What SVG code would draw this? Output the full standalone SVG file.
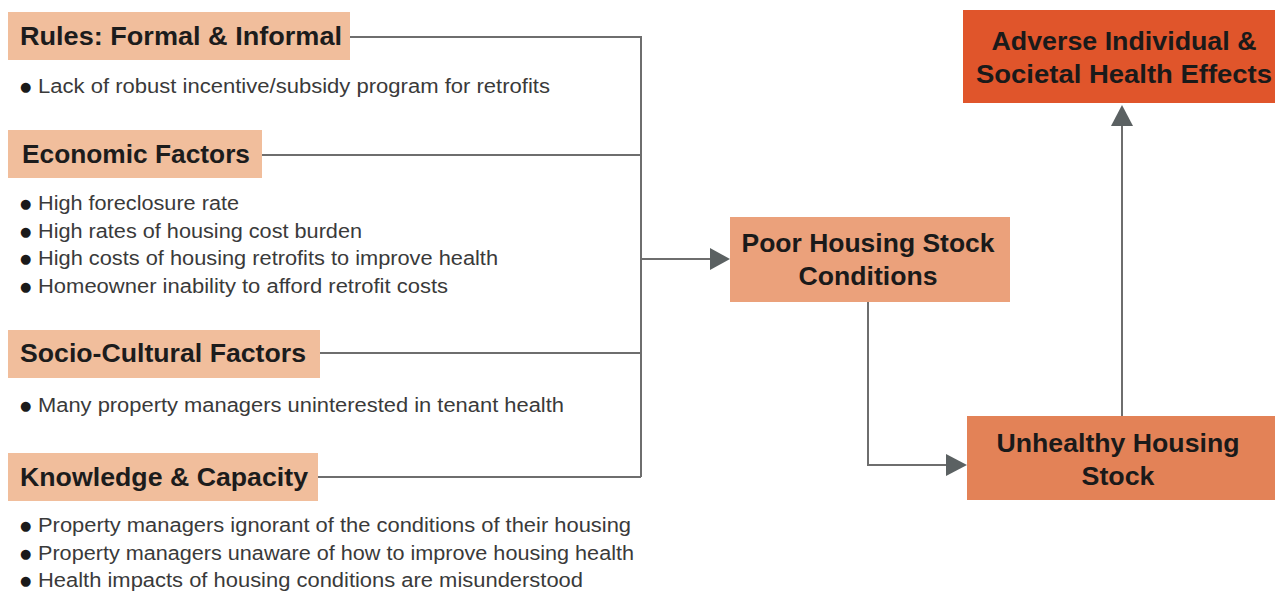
<svg xmlns="http://www.w3.org/2000/svg" width="1275" height="592" viewBox="0 0 1275 592">
<defs>
<style>
.hbox{fill:#F1BE9C}
.hd{font-family:"Liberation Sans",Arial,sans-serif;font-weight:bold;font-size:26px;fill:#1c1c1c}
.bt{font-family:"Liberation Sans",Arial,sans-serif;font-size:20px;fill:#3a3a3a}
.bl{font-family:"DejaVu Sans",sans-serif;font-size:13px;fill:#1a1a1a}
.bx{font-family:"Liberation Sans",Arial,sans-serif;font-weight:bold;font-size:25px;fill:#1a1a1a;text-anchor:middle}
.ln{fill:none;stroke:#6e6e6e;stroke-width:2}
.ah{fill:#5b6162}
</style>
</defs>
<rect width="1275" height="592" fill="#ffffff"/>
<g id="connectors">
<path class="ln" d="M350,37 H641 V477 M262,155 H641 M320,353 H641 M318,477 H641"/>
<path class="ln" d="M641,259 H712"/>
<path class="ah" d="M710,248 L730,259 L710,270 Z"/>
<path class="ln" d="M868,302 V465 H948"/>
<path class="ah" d="M946,454 L967,465 L946,476 Z"/>
<path class="ln" d="M1122,416 V124"/>
<path class="ah" d="M1111,126 L1122,105 L1133,126 Z"/>
</g>
<g id="rules">
<rect class="hbox" x="8" y="12" width="342" height="48"/>
<text class="hd" x="20" y="45" textLength="322" lengthAdjust="spacingAndGlyphs">Rules: Formal &amp; Informal</text>
<text class="bl" x="20" y="91">●</text>
<text class="bt" x="38" y="93" textLength="512" lengthAdjust="spacingAndGlyphs">Lack of robust incentive/subsidy program for retrofits</text>
</g>
<g id="economic">
<rect class="hbox" x="8" y="130" width="254" height="48"/>
<text class="hd" x="22" y="163" textLength="228" lengthAdjust="spacingAndGlyphs">Economic Factors</text>
<text class="bl" x="20" y="208">●</text>
<text class="bt" x="38" y="210" textLength="201" lengthAdjust="spacingAndGlyphs">High foreclosure rate</text>
<text class="bl" x="20" y="236">●</text>
<text class="bt" x="38" y="238" textLength="324" lengthAdjust="spacingAndGlyphs">High rates of housing cost burden</text>
<text class="bl" x="20" y="263">●</text>
<text class="bt" x="38" y="265" textLength="460" lengthAdjust="spacingAndGlyphs">High costs of housing retrofits to improve health</text>
<text class="bl" x="20" y="291">●</text>
<text class="bt" x="38" y="293" textLength="410" lengthAdjust="spacingAndGlyphs">Homeowner inability to afford retrofit costs</text>
</g>
<g id="socio">
<rect class="hbox" x="8" y="330" width="312" height="48"/>
<text class="hd" x="20" y="362" textLength="286" lengthAdjust="spacingAndGlyphs">Socio-Cultural Factors</text>
<text class="bl" x="20" y="410">●</text>
<text class="bt" x="38" y="412" textLength="526" lengthAdjust="spacingAndGlyphs">Many property managers uninterested in tenant health</text>
</g>
<g id="knowledge">
<rect class="hbox" x="8" y="453" width="310" height="48"/>
<text class="hd" x="20" y="486" textLength="288" lengthAdjust="spacingAndGlyphs">Knowledge &amp; Capacity</text>
<text class="bl" x="20" y="530">●</text>
<text class="bt" x="38" y="532" textLength="593" lengthAdjust="spacingAndGlyphs">Property managers ignorant of the conditions of their housing</text>
<text class="bl" x="20" y="558">●</text>
<text class="bt" x="38" y="560" textLength="596" lengthAdjust="spacingAndGlyphs">Property managers unaware of how to improve housing health</text>
<text class="bl" x="20" y="585">●</text>
<text class="bt" x="38" y="587" textLength="545" lengthAdjust="spacingAndGlyphs">Health impacts of housing conditions are misunderstood</text>
</g>
<g id="poor-housing">
<rect x="730" y="217" width="280" height="85" fill="#EBA17B"/>
<text class="bx" x="868" y="252" textLength="253" lengthAdjust="spacingAndGlyphs">Poor Housing Stock</text>
<text class="bx" x="868" y="285" textLength="139" lengthAdjust="spacingAndGlyphs">Conditions</text>
</g>
<g id="unhealthy">
<rect x="967" y="416" width="308" height="84" fill="#E38257"/>
<text class="bx" x="1118" y="452" textLength="243" lengthAdjust="spacingAndGlyphs">Unhealthy Housing</text>
<text class="bx" x="1118" y="485" textLength="73" lengthAdjust="spacingAndGlyphs">Stock</text>
</g>
<g id="adverse">
<rect x="963" y="10" width="312" height="93" fill="#E0552B"/>
<text class="bx" x="1124" y="50" textLength="265" lengthAdjust="spacingAndGlyphs">Adverse Individual &amp;</text>
<text class="bx" x="1124" y="83" textLength="296" lengthAdjust="spacingAndGlyphs">Societal Health Effects</text>
</g>
</svg>
